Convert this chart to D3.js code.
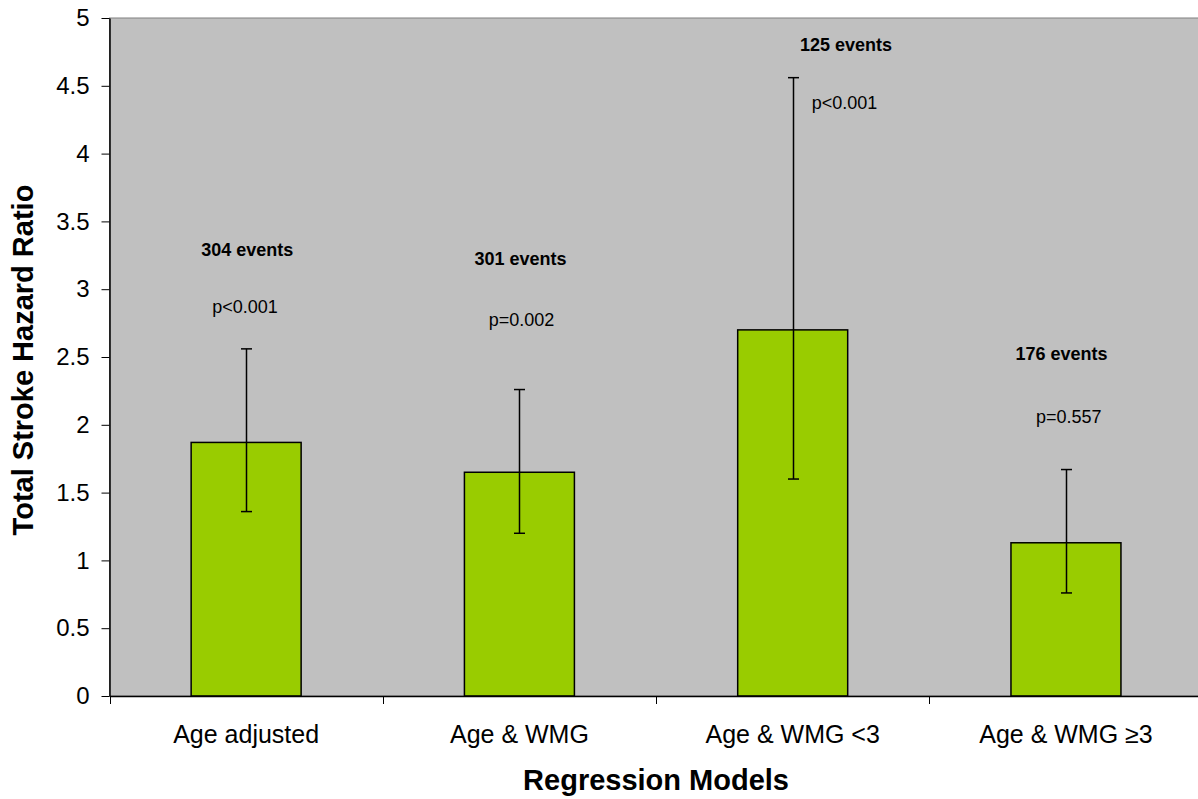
<!DOCTYPE html>
<html>
<head>
<meta charset="utf-8">
<script src="https://cdn.jsdelivr.net/npm/d3@7"></script>
<style>
  body { margin: 0; background: #fff; }
  text { font-family: "Liberation Sans", Arial, sans-serif; }
</style>
</head>
<body>
<div id="chart"></div>
<script>
// data
const models = ["Age adjusted", "Age & WMG", "Age & WMG <3", "Age & WMG \u22653"];
const hazard = [1.87, 1.65, 2.70, 1.13];
const lower  = [1.36, 1.20, 1.60, 0.76];
const upper  = [2.56, 2.26, 4.56, 1.67];
const events = ["304 events", "301 events", "125 events", "176 events"];
const pvals  = ["p<0.001", "p=0.002", "p<0.001", "p=0.557"];
// annotation anchors (y in hazard units, x shift as share of band)
const eventsY = [3.29, 3.22, 4.80, 2.52];
const pvalY   = [2.87, 2.77, 4.37, 2.06];
const eventsDx = [0.004, 0.004, 0.195, -0.016];
const pvalDx   = [-0.004, 0.008, 0.19, 0.01];
const yTicks = [0, 0.5, 1, 1.5, 2, 2.5, 3, 3.5, 4, 4.5, 5];

const W = 1198, H = 799;
const plotL = 109.5, plotR = 1202.6, plotT = 18, plotB = 696;

const svg = d3.select("#chart").append("svg")
    .attr("width", W)
    .attr("height", H);

const x = d3.scaleBand()
    .domain(models)
    .range([plotL, plotR])
    .padding(0);

const y = d3.scaleLinear()
    .domain([0, 5])
    .range([plotB, plotT]);

// plot area
svg.append("rect")
    .attr("x", plotL)
    .attr("y", plotT)
    .attr("width", plotR - plotL)
    .attr("height", plotB - plotT)
    .attr("fill", "#c0c0c0")
    .attr("stroke", "#808080")
    .attr("stroke-width", 1);

const barW = x.bandwidth() * 0.4025;
const cx = d => x(d) + x.bandwidth() / 2;

// bars
svg.append("g")
  .selectAll("rect")
  .data(models)
  .join("rect")
    .attr("x", d => cx(d) - barW / 2)
    .attr("y", (d, i) => y(hazard[i]))
    .attr("width", barW)
    .attr("height", (d, i) => y(0) - y(hazard[i]))
    .attr("fill", "#99cc00")
    .attr("stroke", "#000")
    .attr("stroke-width", 1.5);

// error bars
const err = svg.append("g").attr("stroke", "#000").attr("stroke-width", 1.5);
models.forEach((d, i) => {
  const xc = Math.round(cx(d)) + 0.5;
  err.append("line")
    .attr("x1", xc).attr("x2", xc)
    .attr("y1", y(lower[i])).attr("y2", y(upper[i]));
  [lower[i], upper[i]].forEach(v => {
    err.append("line")
      .attr("x1", xc - 5.5).attr("x2", xc + 5.5)
      .attr("y1", y(v)).attr("y2", y(v));
  });
});

// annotations
svg.append("g")
  .selectAll("text")
  .data(models)
  .join("text")
    .attr("x", (d, i) => cx(d) + eventsDx[i] * x.bandwidth())
    .attr("y", (d, i) => y(eventsY[i]))
    .attr("text-anchor", "middle")
    .attr("dominant-baseline", "central")
    .style("font-size", "18px")
    .style("font-weight", "bold")
    .text((d, i) => events[i]);

svg.append("g")
  .selectAll("text")
  .data(models)
  .join("text")
    .attr("x", (d, i) => cx(d) + pvalDx[i] * x.bandwidth())
    .attr("y", (d, i) => y(pvalY[i]))
    .attr("text-anchor", "middle")
    .attr("dominant-baseline", "central")
    .style("font-size", "18px")
    .text((d, i) => pvals[i]);

// y axis
const yAxis = svg.append("g")
    .attr("transform", `translate(${plotL},0)`)
    .call(d3.axisLeft(y).tickValues(yTicks).tickFormat(d3.format("")).tickSize(8).tickPadding(12).tickSizeOuter(0));
yAxis.select(".domain").attr("stroke", "#000").attr("stroke-width", 1.5);
yAxis.selectAll(".tick line").attr("stroke", "#000");
yAxis.selectAll(".tick text")
    .style("font-size", "24px")
    .style("font-family", "'Liberation Sans', Arial, sans-serif")
    .attr("fill", "#000");

// x axis: labels at band centres, ticks at band edges
const xAxis = svg.append("g")
    .attr("transform", `translate(0,${plotB})`)
    .call(d3.axisBottom(x).tickSize(0).tickPadding(29));
xAxis.select(".domain").attr("stroke", "#000").attr("stroke-width", 1.5);
xAxis.selectAll(".tick text")
    .style("font-size", "25px")
    .style("font-family", "'Liberation Sans', Arial, sans-serif")
    .attr("fill", "#000");
xAxis.selectAll(".edge")
  .data(models)
  .join("line")
    .attr("class", "edge")
    .attr("x1", d => Math.round(x(d)) + 0.5)
    .attr("x2", d => Math.round(x(d)) + 0.5)
    .attr("y1", 0)
    .attr("y2", 8)
    .attr("stroke", "#000");

// titles
svg.append("text")
    .attr("x", (plotL + plotR) / 2)
    .attr("y", 790)
    .attr("text-anchor", "middle")
    .style("font-size", "29px")
    .style("font-weight", "bold")
    .text("Regression Models");

svg.append("text")
    .attr("transform", `translate(33,${(plotT + plotB) / 2 + 3}) rotate(-90)`)
    .attr("text-anchor", "middle")
    .style("font-size", "29px")
    .style("font-weight", "bold")
    .text("Total Stroke Hazard Ratio");
</script>
</body>
</html>
